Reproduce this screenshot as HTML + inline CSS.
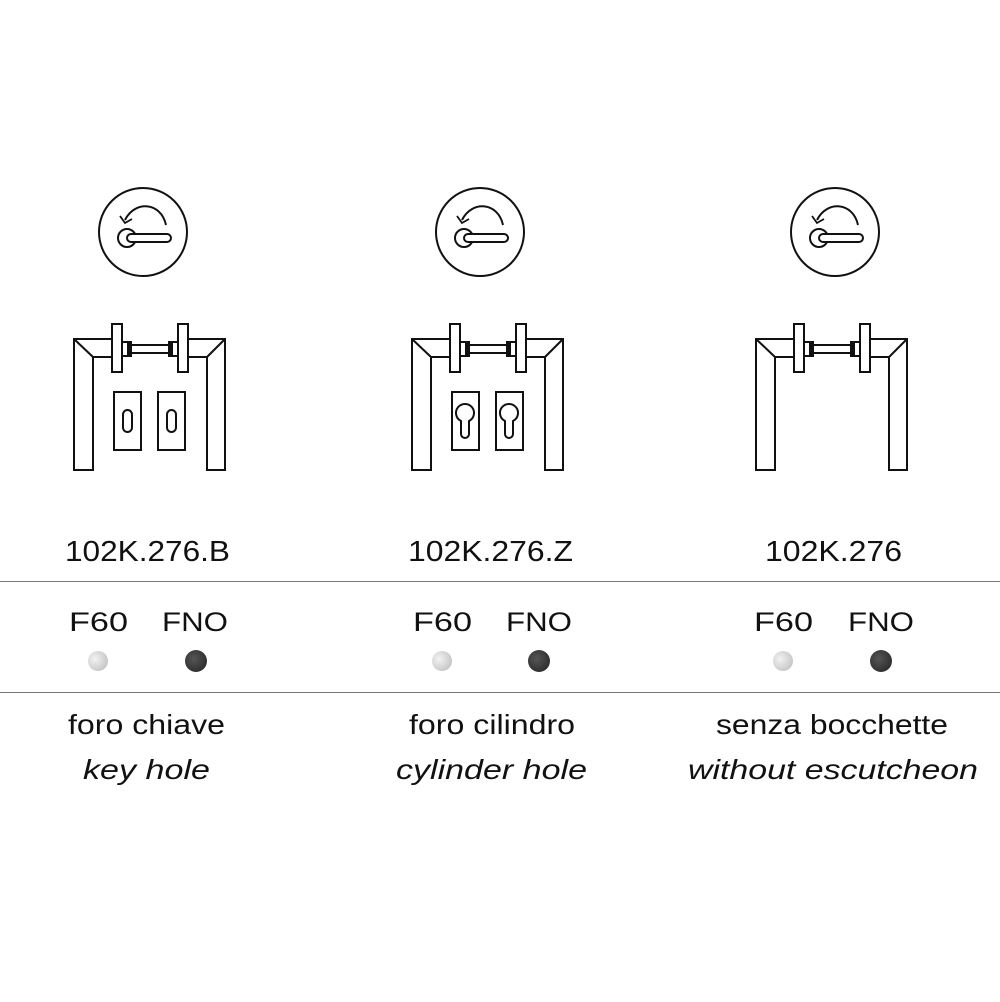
<!DOCTYPE html>
<html><head><style>
body{margin:0;background:#fff;width:1000px;height:1002px;overflow:hidden}
svg{display:block}
text{font-family:"Liberation Sans",sans-serif;fill:#111}
</style></head><body>
<svg width="1000" height="1002" viewBox="0 0 1000 1002">
<defs>
<g id="icon" fill="none" stroke="#111" stroke-width="2">
<circle cx="0" cy="0" r="44"/>
<path d="M23 -7 C18 -30 -8 -32 -18 -12"/>
<path d="M-23 -16 L-18 -9 L-11 -13" stroke-width="1.8"/>
<circle cx="-16" cy="6" r="9"/>
<rect x="-16" y="2" width="44" height="8" rx="4" fill="#fff"/>
</g>
<g id="door" fill="#fff" stroke="#111" stroke-width="2">
<path d="M74 339 L112 339 L112 357 L93 357 L93 470 L74 470 Z"/>
<path d="M74 339 L93 357"/>
<path d="M225 339 L188 339 L188 357 L207 357 L207 470 L225 470 Z"/>
<path d="M225 339 L207 357"/>
<rect x="130" y="345" width="40" height="8"/>
<rect x="122" y="342" width="8" height="14" fill="#fff"/>
<rect x="128" y="342" width="3" height="14" fill="#111"/>
<rect x="170" y="342" width="8" height="14" fill="#fff"/>
<rect x="169" y="342" width="3" height="14" fill="#111"/>
<rect x="112" y="324" width="10" height="48"/>
<rect x="178" y="324" width="10" height="48"/>
</g>
<g id="esc" fill="#fff" stroke="#111" stroke-width="2">
<rect x="114" y="392" width="27" height="58"/>
<rect x="158" y="392" width="27" height="58"/>
</g>
<radialGradient id="lg" cx="0.35" cy="0.4" r="0.7"><stop offset="0" stop-color="#f2f2f2"/><stop offset="1" stop-color="#c4c4c4"/></radialGradient>
<radialGradient id="dg" cx="0.4" cy="0.4" r="0.7"><stop offset="0" stop-color="#555"/><stop offset="1" stop-color="#2a2a2a"/></radialGradient>
</defs>

<use href="#icon" transform="translate(143,232)"/>
<use href="#icon" transform="translate(480,232)"/>
<use href="#icon" transform="translate(835,232)"/>

<use href="#door"/>
<use href="#esc"/>
<g fill="none" stroke="#111" stroke-width="2">
<rect x="123" y="410" width="9" height="22" rx="4.5"/>
<rect x="167" y="410" width="9" height="22" rx="4.5"/>
</g>

<g transform="translate(338,0)">
<use href="#door"/>
<use href="#esc"/>
<g fill="none" stroke="#111" stroke-width="2">
<path d="M123 421 A9 9 0 1 1 131 421 L131 434 A4 4 0 0 1 123 434 Z"/>
<path d="M167 421 A9 9 0 1 1 175 421 L175 434 A4 4 0 0 1 167 434 Z"/>
</g>
</g>
<g transform="translate(682,0)"><use href="#door"/></g>

<g font-size="29">
<text x="65" y="561" textLength="165" lengthAdjust="spacingAndGlyphs">102K.276.B</text>
<text x="408" y="561" textLength="165" lengthAdjust="spacingAndGlyphs">102K.276.Z</text>
<text x="765" y="561" textLength="137" lengthAdjust="spacingAndGlyphs">102K.276</text>
</g>
<line x1="0" y1="581.5" x2="1000" y2="581.5" stroke="#777" stroke-width="1"/>
<line x1="0" y1="692.5" x2="1000" y2="692.5" stroke="#777" stroke-width="1"/>
<g font-size="27">
<text x="69" y="631" textLength="59" lengthAdjust="spacingAndGlyphs">F60</text><text x="162" y="631" textLength="66" lengthAdjust="spacingAndGlyphs">FNO</text>
<text x="413" y="631" textLength="59" lengthAdjust="spacingAndGlyphs">F60</text><text x="506" y="631" textLength="66" lengthAdjust="spacingAndGlyphs">FNO</text>
<text x="754" y="631" textLength="59" lengthAdjust="spacingAndGlyphs">F60</text><text x="848" y="631" textLength="66" lengthAdjust="spacingAndGlyphs">FNO</text>
</g>
<g>
<circle cx="98" cy="661" r="10" fill="url(#lg)"/><circle cx="196" cy="661" r="11" fill="url(#dg)"/>
<circle cx="442" cy="661" r="10" fill="url(#lg)"/><circle cx="539" cy="661" r="11" fill="url(#dg)"/>
<circle cx="783" cy="661" r="10" fill="url(#lg)"/><circle cx="881" cy="661" r="11" fill="url(#dg)"/>
</g>
<g font-size="28">
<text x="68" y="734" textLength="157" lengthAdjust="spacingAndGlyphs">foro chiave</text>
<text x="409" y="734" textLength="166" lengthAdjust="spacingAndGlyphs">foro cilindro</text>
<text x="716" y="734" textLength="232" lengthAdjust="spacingAndGlyphs">senza bocchette</text>
<g font-style="italic">
<text x="83" y="779" textLength="127" lengthAdjust="spacingAndGlyphs">key hole</text>
<text x="396" y="779" textLength="191" lengthAdjust="spacingAndGlyphs">cylinder hole</text>
<text x="688" y="779" textLength="290" lengthAdjust="spacingAndGlyphs">without  escutcheon</text>
</g>
</g>
</svg>
</body></html>
